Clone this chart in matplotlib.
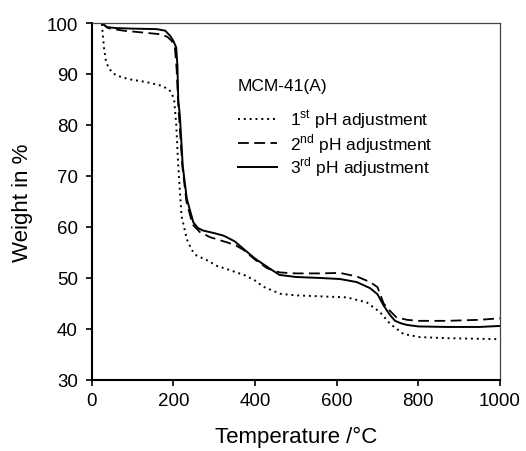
import matplotlib
matplotlib.use("Agg")
import matplotlib.pyplot as plt

plt.rcParams["font.family"] = ["Liberation Sans", "DejaVu Sans"]
plt.rcParams["mathtext.fontset"] = "custom"
plt.rcParams["mathtext.rm"] = "Liberation Sans"

# TGA curves (temperature in °C, weight in %)
t_1st = [25, 30, 35, 41, 50, 61, 90, 135, 171, 188, 196, 202, 207, 212, 220, 233,
         245, 257, 282, 306, 340, 376, 400, 420, 462, 500, 560, 625, 674, 706,
         731, 764, 805, 870, 1000]
w_1st = [99.8, 95.2, 92.5, 91.3, 90.3, 89.7, 89.0, 88.4, 87.7, 87.0, 86.3, 84.8,
         80.2, 72.0, 62.2, 57.6, 55.5, 54.4, 53.5, 52.4, 51.5, 50.5, 49.5, 48.3,
         46.9, 46.6, 46.4, 46.2, 45.2, 43.3, 41.0, 39.0, 38.4, 38.2, 38.0]

t_2nd = [25, 40, 77, 130, 167, 185, 196, 204, 208, 212, 222, 232, 247, 265, 290,
         331, 355, 372, 400, 430, 460, 500, 560, 608, 649, 682, 700, 715, 730,
         746, 772, 800, 870, 950, 1000]
w_2nd = [100.0, 99.0, 98.5, 98.1, 97.8, 97.3, 96.5, 95.0, 91.0, 84.0, 72.0, 65.0,
         60.5, 59.0, 58.0, 57.0, 56.3, 55.5, 53.6, 51.9, 51.1, 50.9, 50.9, 51.0,
         50.3, 49.2, 48.2, 45.0, 43.6, 42.3, 41.8, 41.6, 41.6, 41.8, 42.1]

t_3rd = [25, 37, 60, 100, 159, 180, 192, 200, 207, 210, 212, 216, 223, 233, 249,
         260, 273, 300, 323, 350, 372, 400, 437, 460, 500, 560, 608, 649, 682,
         700, 715, 730, 743, 758, 772, 800, 870, 950, 1000]
w_3rd = [100.0, 99.2, 99.0, 98.9, 98.8, 98.5, 97.5, 96.5, 95.2, 91.6, 85.0, 81.8,
         72.0, 65.5, 60.9, 59.8, 59.3, 58.8, 58.3, 57.2, 55.7, 53.8, 51.8, 50.6,
         50.2, 50.0, 49.8, 49.2, 48.0, 46.8, 44.6, 42.8, 41.6, 41.1, 40.8, 40.5,
         40.4, 40.4, 40.6]

x_ticks = [0, 200, 400, 600, 800, 1000]
y_ticks = [30, 40, 50, 60, 70, 80, 90, 100]

fig = plt.figure(figsize=(5.26, 4.52), dpi=100)
ax = fig.add_axes([0.1743, 0.1571, 0.7763, 0.7898])

ax.plot(t_1st, w_1st, color="black", lw=1.4, linestyle=(0, (1, 2)),
        label="1$^{\\rm st}$ pH adjustment")
ax.plot(t_2nd, w_2nd, color="black", lw=1.3, linestyle=(0, (6, 3)),
        label="2$^{\\rm nd}$ pH adjustment")
ax.plot(t_3rd, w_3rd, color="black", lw=1.4, linestyle="-",
        label="3$^{\\rm rd}$ pH adjustment")

ax.set_xlim(0, 1000)
ax.set_ylim(30, 100)
ax.set_xticks(x_ticks)
ax.set_yticks(y_ticks)
ax.tick_params(axis="both", labelsize=13.5, length=4, width=1.2, direction="out",
               color="black")
ax.tick_params(axis="x", pad=5)
ax.tick_params(axis="y", pad=6)

for side in ["left", "bottom"]:
    ax.spines[side].set_linewidth(1.5)
    ax.spines[side].set_color("black")
for side in ["top", "right"]:
    ax.spines[side].set_linewidth(0.9)
    ax.spines[side].set_color("#444444")

ax.set_xlabel("Temperature /°C", fontsize=16, labelpad=12)
ax.set_ylabel("Weight in %", fontsize=16, labelpad=10)

leg = ax.legend(loc="upper left", bbox_to_anchor=(0.358, 0.847), frameon=False,
                title="MCM-41(A)", title_fontsize=12.5, fontsize=12.5,
                alignment="left", borderpad=0, borderaxespad=0,
                handlelength=2.25, handletextpad=0.75, labelspacing=0.0)
leg._legend_box.sep = 11

fig.savefig("out.png", dpi=100)
